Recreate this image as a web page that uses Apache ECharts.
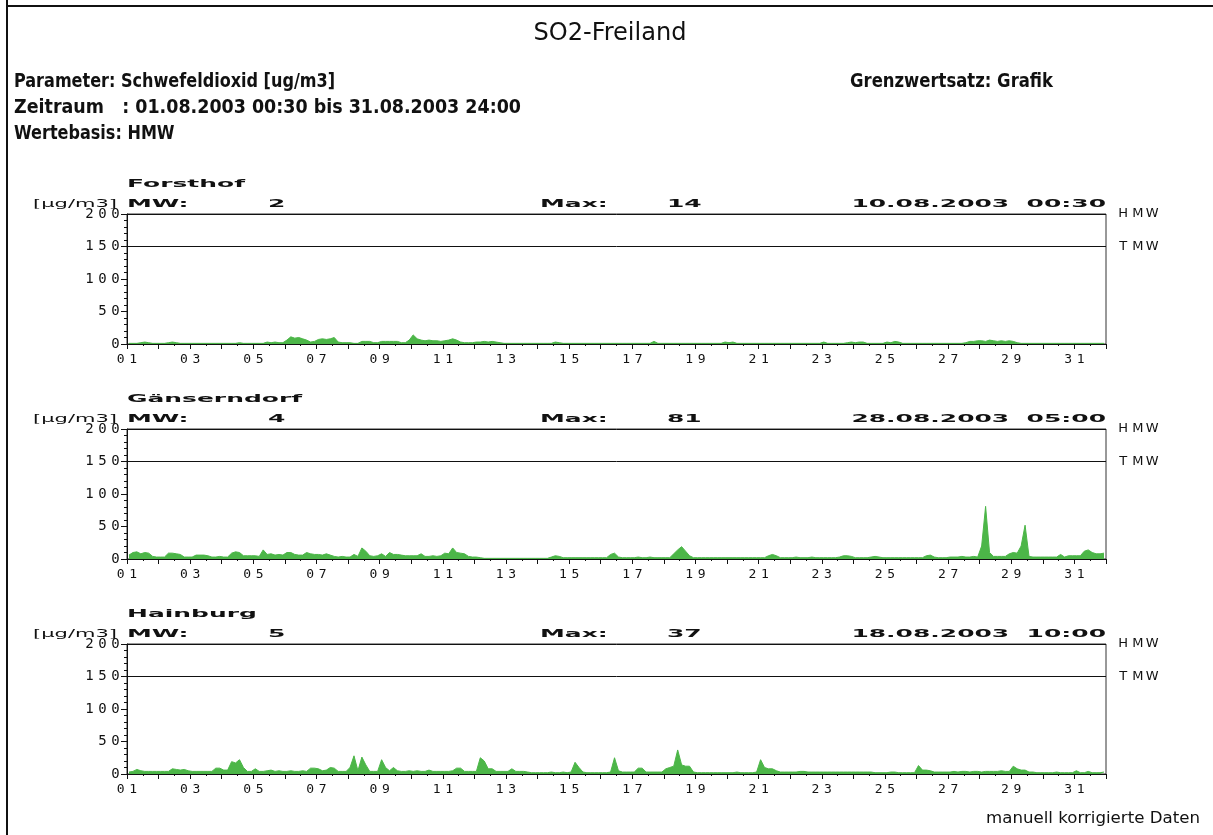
<!DOCTYPE html>
<html>
<head>
<meta charset="utf-8">
<title>SO2-Freiland</title>
<script src="https://cdn.jsdelivr.net/npm/echarts@6.0.0/dist/echarts.min.js"></script>
<style>
  html, body { margin: 0; padding: 0; background: #fff; }
  #chart { width: 1213px; height: 835px; }
</style>
</head>
<body>
<div id="chart"></div>
<script>
// stations and their header figures
const stations = ['Forsthof', 'Gänserndorf', 'Hainburg'];
const meanValues = ['2', '4', '5'];
const maxValues = ['14', '81', '37'];
const maxTimes = ['10.08.2003  00:30', '28.08.2003  05:00', '18.08.2003  10:00'];

// limit lines
const limitNames = ['HMW', 'TMW'];
const limitValues = [200, 150];

// x tick labels (odd days)
const dayLabels = ['01', '03', '05', '07', '09', '11', '13', '15', '17', '19', '21', '23', '25', '27', '29', '31'];

const forsthof = [
  1, 1, 1, 2, 3, 2, 1, 1,
  1, 1, 2, 3, 2, 1, 1, 1,
  1, 1, 1, 1, 1, 1, 1, 1,
  1, 1, 1, 1, 2, 1, 1, 1,
  1, 1, 1, 3, 2, 3, 2, 2,
  6, 11, 9, 10, 8, 6, 3, 4,
  7, 8, 7, 8, 10, 3, 2, 2,
  2, 1, 1, 4, 4, 4, 2, 2,
  4, 4, 4, 4, 4, 2, 2, 6,
  14, 8, 6, 5, 6, 5, 5, 4,
  5, 6, 8, 6, 3, 2, 2, 2,
  3, 3, 4, 3, 4, 3, 2, 1,
  1, 1, 1, 1, 1, 1, 1, 1,
  1, 1, 1, 1, 3, 2, 1, 1,
  1, 1, 1, 1, 1, 1, 1, 1,
  1, 1, 1, 1, 1, 1, 1, 1,
  1, 1, 1, 1, 1, 4, 1, 1,
  1, 1, 1, 1, 1, 1, 1, 1,
  1, 1, 1, 1, 1, 1, 1, 3,
  2, 3, 1, 1, 1, 1, 1, 1,
  1, 1, 1, 1, 1, 1, 1, 1,
  1, 1, 1, 1, 1, 1, 1, 1,
  3, 1, 1, 1, 1, 1, 2, 3,
  2, 3, 3, 1, 1, 1, 1, 1,
  3, 2, 4, 3, 1, 1, 1, 1,
  1, 1, 1, 1, 1, 1, 1, 1,
  1, 1, 1, 1, 2, 4, 4, 5,
  5, 4, 6, 5, 4, 5, 4, 5,
  4, 2, 1, 1, 1, 1, 1, 1,
  1, 1, 1, 1, 1, 1, 1, 1,
  1, 1, 1, 1, 1, 1, 1, 1
];
const gaenserndorf = [
  6, 10, 11, 8, 10, 9, 4, 3,
  3, 3, 9, 9, 8, 7, 3, 3,
  3, 6, 6, 6, 5, 3, 3, 4,
  3, 3, 9, 11, 10, 5, 5, 5,
  5, 4, 14, 7, 8, 6, 7, 6,
  10, 10, 7, 6, 6, 10, 8, 7,
  7, 6, 8, 6, 4, 3, 4, 3,
  3, 7, 4, 17, 12, 5, 4, 5,
  8, 4, 10, 7, 7, 6, 5, 5,
  5, 5, 8, 4, 4, 5, 4, 5,
  9, 8, 17, 10, 9, 8, 4, 3,
  3, 2, 1, 1, 1, 1, 1, 1,
  1, 1, 1, 1, 1, 1, 1, 1,
  1, 1, 1, 3, 5, 4, 2, 2,
  2, 2, 2, 2, 2, 2, 2, 2,
  2, 2, 7, 9, 3, 2, 2, 2,
  2, 3, 2, 2, 3, 2, 2, 2,
  2, 2, 8, 14, 19, 12, 5, 2,
  2, 2, 2, 2, 2, 2, 2, 2,
  2, 2, 2, 2, 2, 2, 2, 2,
  2, 2, 5, 7, 5, 2, 2, 2,
  2, 3, 2, 2, 2, 3, 2, 2,
  2, 2, 2, 2, 3, 5, 5, 4,
  2, 2, 2, 2, 3, 4, 3, 2,
  2, 2, 2, 2, 2, 2, 2, 2,
  2, 2, 5, 6, 3, 2, 2, 2,
  3, 3, 3, 4, 3, 3, 4, 3,
  20, 81, 10, 4, 4, 4, 4, 8,
  10, 9, 20, 52, 4, 3, 3, 3,
  3, 3, 3, 3, 7, 3, 5, 5,
  5, 5, 12, 14, 10, 8, 8, 9
];
const hainburg = [
  3, 4, 7, 5, 4, 4, 4, 4,
  4, 4, 4, 8, 7, 6, 7, 5,
  4, 4, 4, 4, 4, 4, 9, 9,
  6, 6, 19, 17, 22, 10, 4, 4,
  8, 4, 4, 5, 6, 4, 5, 4,
  4, 5, 4, 4, 5, 4, 9, 9,
  8, 5, 6, 10, 9, 4, 4, 4,
  10, 28, 5, 26, 14, 4, 4, 4,
  22, 10, 5, 10, 5, 4, 4, 5,
  4, 5, 4, 4, 6, 4, 4, 4,
  4, 4, 5, 9, 9, 4, 4, 4,
  4, 25, 20, 8, 8, 4, 4, 4,
  4, 8, 4, 4, 4, 3, 2, 2,
  2, 2, 2, 3, 2, 2, 3, 2,
  3, 18, 10, 3, 2, 2, 2, 2,
  2, 2, 3, 25, 5, 3, 3, 3,
  3, 9, 9, 3, 3, 3, 3, 3,
  8, 10, 12, 37, 14, 12, 12, 3,
  2, 2, 2, 2, 2, 2, 2, 2,
  2, 2, 3, 2, 2, 2, 2, 3,
  22, 10, 8, 8, 5, 3, 3, 3,
  3, 3, 4, 4, 3, 3, 3, 3,
  3, 3, 3, 3, 3, 3, 3, 3,
  3, 3, 3, 3, 3, 2, 2, 2,
  2, 3, 3, 2, 2, 2, 2, 2,
  13, 6, 6, 5, 3, 3, 3, 3,
  3, 4, 3, 4, 4, 3, 4, 4,
  3, 4, 4, 4, 4, 5, 4, 4,
  12, 8, 6, 6, 3, 3, 2, 2,
  2, 2, 2, 3, 2, 2, 2, 2,
  5, 2, 2, 4, 2, 2, 2, 3
];
const seriesValues = [forsthof, gaenserndorf, hainburg];

const GREEN = '#4cb648';
const INK = '#111';
const SAMPLES_PER_DAY = 8;

// text helpers ------------------------------------------------------------
const measureCtx = document.createElement('canvas').getContext('2d');
function textWidth(s, font) {
  measureCtx.font = font;
  return measureCtx.measureText(s).width;
}
function txt(s, x, y, font, scaleX, align) {
  return {
    type: 'text', x: x, y: y, scaleX: scaleX, silent: true,
    style: { text: s, font: font, fill: INK, align: align || 'left', verticalAlign: 'middle' }
  };
}
// fit a text to a target width by stretching it horizontally
function fitted(s, x, y, font, width, align) {
  return txt(s, x, y, font, width / textWidth(s, font), align);
}
// wide pixel-font look: each character in its own fixed box
function spaced(s) {
  return s.split('').map(ch => '{c|' + ch + '}').join('');
}

const NARROW = '"Liberation Sans Narrow", "DejaVu Sans Condensed", sans-serif';
const HDR_FONT = 'bold 11px "DejaVu Sans", sans-serif';
const UNIT_FONT = '11px "DejaVu Sans", sans-serif';
const hdrScale = 118 / textWidth('Forsthof', HDR_FONT);
const paramFont = 'bold 19px ' + NARROW;
const paramScale = 321 / textWidth('Parameter: Schwefeldioxid [ug/m3]', paramFont);

const graphics = [
  // page frame
  { type: 'line', silent: true, shape: { x1: 6, y1: 6, x2: 1213, y2: 6 }, style: { stroke: INK, lineWidth: 2 } },
  { type: 'line', silent: true, shape: { x1: 7, y1: 0, x2: 7, y2: 835 }, style: { stroke: INK, lineWidth: 2 } },
  fitted('SO2-Freiland', 610, 34, '24px ' + NARROW, 153, 'center'),
  txt('Parameter: Schwefeldioxid [ug/m3]', 14, 82, paramFont, paramScale),
  fitted('Zeitraum   : 01.08.2003 00:30 bis 31.08.2003 24:00', 14, 108, paramFont, 507),
  txt('Wertebasis: HMW', 14, 134, paramFont, paramScale),
  fitted('Grenzwertsatz: Grafik', 850, 82, paramFont, 203),
  fitted('manuell korrigierte Daten', 1200, 819, '15px ' + NARROW, 214, 'right')
];

const grids = [], xAxes = [], yAxes = [], series = [];
const PLOT_LEFT = 127, PLOT_W = 979, PLOT_H = 130;

stations.forEach((name, i) => {
  const top = 214 + 215 * i;
  grids.push({
    left: PLOT_LEFT, width: PLOT_W, top: top, height: PLOT_H,
    show: true, borderColor: '#333', borderWidth: 1
  });
  xAxes.push({
    type: 'value', gridIndex: i, min: 1, max: 32, interval: 1,
    axisLine: { onZero: false, lineStyle: { color: INK } },
    axisTick: { length: 5, lineStyle: { color: INK } },
    minorTick: { show: true, splitNumber: 2, length: 2, lineStyle: { color: INK } },
    splitLine: { show: false },
    axisLabel: {
      margin: 9,
      formatter: v => (v % 2 === 1 && v < 32) ? spaced(dayLabels[(v - 1) / 2]) : '',
      rich: { c: { width: 12.5, align: 'center', fontSize: 13, fontFamily: 'DejaVu Sans Mono', color: INK } }
    }
  });
  yAxes.push({
    type: 'value', gridIndex: i, min: 0, max: 200, interval: 50,
    axisLine: { show: true, lineStyle: { color: INK } },
    axisTick: { show: true, length: 6, lineStyle: { color: INK } },
    minorTick: { show: true, splitNumber: 5, length: 3, lineStyle: { color: INK } },
    splitLine: { show: false },
    axisLabel: {
      margin: 5,
      formatter: v => spaced(String(v)),
      rich: { c: { width: 13, align: 'center', fontSize: 14, fontFamily: 'DejaVu Sans Mono', color: INK } }
    }
  });

  const vals = seriesValues[i];
  series.push({
    type: 'line', name: name, xAxisIndex: i, yAxisIndex: i,
    data: vals.map((v, k) => [1 + (k + 0.5) / SAMPLES_PER_DAY, v]),
    showSymbol: false, symbol: 'none', silent: true, animation: false,
    lineStyle: { width: 1, color: GREEN },
    itemStyle: { color: GREEN },
    areaStyle: { color: GREEN, opacity: 1 },
    markLine: {
      silent: true, symbol: 'none', animation: false,
      lineStyle: { color: INK, width: 1, type: 'solid' },
      label: {
        position: 'end', distance: 10,
        formatter: p => spaced(p.name),
        rich: { c: { width: 14.5, align: 'center', fontSize: 13, fontFamily: 'DejaVu Sans', color: INK } }
      },
      data: limitNames.map((n, j) => ({ name: n, yAxis: limitValues[j] }))
    }
  });

  const dy = 215 * i;
  graphics.push(
    txt(name, PLOT_LEFT, 184 + dy, HDR_FONT, hdrScale),
    fitted('[µg/m3]', 33, 204 + dy, UNIT_FONT, 84),
    txt('MW:', PLOT_LEFT, 204 + dy, HDR_FONT, hdrScale),
    txt(meanValues[i], 268, 204 + dy, HDR_FONT, hdrScale),
    txt('Max:', 540, 204 + dy, HDR_FONT, hdrScale),
    txt(maxValues[i], 667, 204 + dy, HDR_FONT, hdrScale),
    txt(maxTimes[i], 1106, 204 + dy, HDR_FONT, hdrScale, 'right')
  );
});

const chart = echarts.init(document.getElementById('chart'));
chart.setOption({
  animation: false,
  backgroundColor: '#fff',
  grid: grids,
  xAxis: xAxes,
  yAxis: yAxes,
  series: series,
  graphic: graphics
});
window.addEventListener('resize', () => chart.resize());
</script>
</body>
</html>
